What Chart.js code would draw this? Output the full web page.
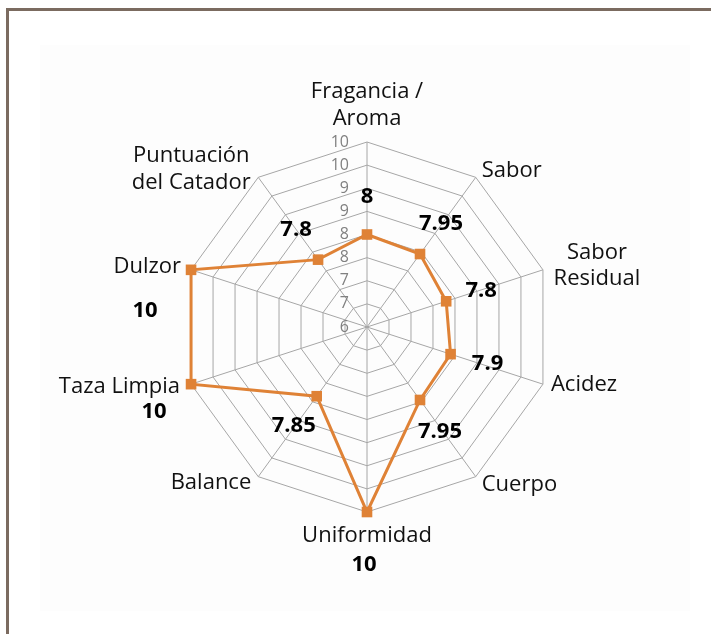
<!DOCTYPE html>
<html>
<head>
<meta charset="utf-8">
<script src="https://cdn.jsdelivr.net/npm/chart.js@4"></script>
<style>
  html, body { margin: 0; padding: 0; background: #ffffff; }
  #wrap { position: relative; width: 711px; height: 634px; overflow: hidden; }
  #frame { position: absolute; left: 6px; top: 8px; right: -10px; bottom: -10px;
           border-left: 3px solid #7b6b60; border-top: 3px solid #7b6b60; }
  #plotbg { position: absolute; left: 40px; top: 45px; width: 650px; height: 566px; background: #fdfdfd; }
  canvas { position: absolute; left: 0; top: 0; }
</style>
</head>
<body>
<div id="wrap">
  <div id="frame"></div>
  <div id="plotbg"></div>
  <canvas id="c" width="711" height="634"></canvas>
</div>
<script>
const categories = [
  ['Fragancia /', 'Aroma'],
  ['Sabor'],
  ['Sabor', 'Residual'],
  ['Acidez'],
  ['Cuerpo'],
  ['Uniformidad'],
  ['Balance'],
  ['Taza Limpia'],
  ['Dulzor'],
  ['Puntuación', 'del Catador']
];
const scores = [8, 7.95, 7.8, 7.9, 7.95, 10, 7.85, 10, 10, 7.8];
const tickLabels = ['6', '7', '7', '8', '8', '9', '9', '10', '10'];

// label placement relative to outer vertex (style only)
const catLayout = [
  { dx: 0, dy: -37, align: 'center' },
  { dx: 6, dy: -7, align: 'left' },
  { dx: 54, dy: -4, align: 'center' },
  { dx: 8, dy: 1, align: 'left' },
  { dx: 6, dy: 8, align: 'left' },
  { dx: 0, dy: 24, align: 'center' },
  { dx: -7, dy: 6, align: 'right' },
  { dx: -11, dy: 3, align: 'right' },
  { dx: -10, dy: -3, align: 'right' },
  { dx: -67, dy: -8, align: 'center' }
];
// value label offsets relative to data point (style only)
const valOffset = [
  [0, -38], [21, -30], [35, -11], [37, 10], [20, 32],
  [-3, 53], [-23, 30], [-37, 28], [-46, 41], [-22, -30]
];

const ORANGE = '#DF8236';

const labelsPlugin = {
  id: 'customLabels',
  afterDraw(chart) {
    const ctx = chart.ctx;
    const scale = chart.scales.r;
    const R = scale.drawingArea;
    ctx.save();
    // tick labels
    ctx.font = '16px "Open Sans", sans-serif';
    ctx.fillStyle = '#808080';
    ctx.textAlign = 'right';
    ctx.textBaseline = 'middle';
    scale.ticks.forEach((t, i) => {
      const d = scale.getDistanceFromCenterForValue(t.value);
      ctx.fillText(t.label, scale.xCenter - 18, scale.yCenter - d);
    });
    // category labels
    ctx.font = '22px "Open Sans", sans-serif';
    ctx.fillStyle = '#111111';
    categories.forEach((lines, i) => {
      const p = scale.getPointPosition(i, R);
      const L = catLayout[i];
      ctx.textAlign = L.align;
      const lh = 26.5;
      const y0 = p.y + L.dy - (lines.length - 1) * lh / 2;
      lines.forEach((s, k) => ctx.fillText(s, p.x + L.dx, y0 + k * lh));
    });
    // value labels
    ctx.font = 'bold 22px "Open Sans", sans-serif';
    ctx.fillStyle = '#000000';
    ctx.textAlign = 'center';
    const meta = chart.getDatasetMeta(0);
    meta.data.forEach((pt, i) => {
      ctx.fillText(String(scores[i]), pt.x + valOffset[i][0], pt.y + valOffset[i][1]);
    });
    ctx.restore();
  }
};

new Chart(document.getElementById('c'), {
  type: 'radar',
  data: {
    labels: categories,
    datasets: [{
      data: scores,
      borderColor: ORANGE,
      backgroundColor: 'rgba(0,0,0,0)',
      borderWidth: 3,
      fill: false,
      pointStyle: 'rect',
      pointRadius: 7.5,
      pointHoverRadius: 7.5,
      pointBackgroundColor: ORANGE,
      pointBorderColor: ORANGE,
      pointBorderWidth: 0,
      tension: 0
    }]
  },
  options: {
    responsive: false,
    animation: false,
    layout: { padding: { left: 182, top: 142, right: 159, bottom: 122 } },
    plugins: { legend: { display: false }, tooltip: { enabled: false } },
    scales: {
      r: {
        min: 6,
        max: 10,
        ticks: { display: false, stepSize: 0.5, callback: (v, i) => tickLabels[i] },
        pointLabels: { display: false },
        grid: { color: '#a6a6a6', lineWidth: 1 },
        angleLines: { color: '#a6a6a6', lineWidth: 1 }
      }
    }
  },
  plugins: [labelsPlugin]
});
</script>
</body>
</html>
